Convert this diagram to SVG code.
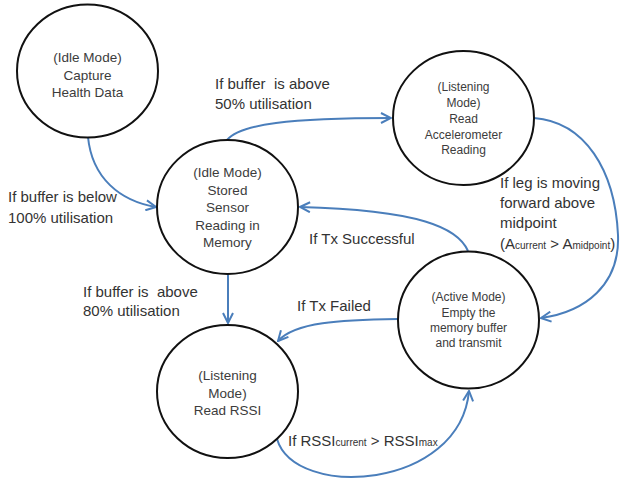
<svg xmlns="http://www.w3.org/2000/svg" width="621" height="481" viewBox="0 0 621 481">
<defs>
<style>
.node{fill:#fff;stroke:#111;stroke-width:2}
.nt{font-family:"Liberation Sans",Arial,sans-serif;fill:#3c3c3c;text-anchor:middle}
.lbl{font-family:"Liberation Sans",Arial,sans-serif;font-size:15px;fill:#333;white-space:pre}
.edge{fill:none;stroke:#4a7ebb;stroke-width:2}
.sub{font-size:10px}
</style>
<marker id="arr" viewBox="0 0 12 12" refX="11" refY="6" markerWidth="12" markerHeight="12" markerUnits="userSpaceOnUse" orient="auto">
<path d="M1,1 L11,6 L1,11" fill="none" stroke="#4a7ebb" stroke-width="2"/>
</marker>
</defs>
<rect width="621" height="481" fill="#fff"/>
<g id="connectors">
<path class="edge" d="M88 137 C92 178 120 201 156 207" marker-end="url(#arr)"/>
<path class="edge" d="M227 140 C240 124 290 118 391 118" marker-end="url(#arr)"/>
<path class="edge" d="M534 118 C585 122 615 170 618 235 C620 285 585 312 541 318" marker-end="url(#arr)"/>
<path class="edge" d="M468 251 C458 228 420 210 300 207" marker-end="url(#arr)"/>
<path class="edge" d="M228 274 L228 323" marker-end="url(#arr)"/>
<path class="edge" d="M398 319 C340 320 295 322 278 341" marker-end="url(#arr)"/>
<path class="edge" d="M277 439 C295 500 460 490 469 391" marker-end="url(#arr)"/>
</g>
<g id="n1">
<ellipse class="node" cx="87.5" cy="71" rx="70.5" ry="66.5"/>
<text class="nt" font-size="13.5"><tspan x="87.5" y="62">(Idle Mode)</tspan><tspan x="87.5" y="79.5">Capture</tspan><tspan x="87.5" y="97">Health Data</tspan></text>
</g>
<g id="n2">
<ellipse class="node" cx="227.5" cy="207" rx="70.5" ry="67"/>
<text class="nt" font-size="13.5"><tspan x="227.5" y="177">(Idle Mode)</tspan><tspan x="227.5" y="194.5">Stored</tspan><tspan x="227.5" y="212">Sensor</tspan><tspan x="227.5" y="229.5">Reading in</tspan><tspan x="227.5" y="247">Memory</tspan></text>
</g>
<g id="n3">
<ellipse class="node" cx="463.5" cy="118" rx="70.5" ry="67"/>
<text class="nt" font-size="12"><tspan x="463.5" y="91">(Listening</tspan><tspan x="463.5" y="107">Mode)</tspan><tspan x="463.5" y="122.5">Read</tspan><tspan x="463.5" y="138.5">Accelerometer</tspan><tspan x="463.5" y="154">Reading</tspan></text>
</g>
<g id="n4">
<ellipse class="node" cx="468.5" cy="320" rx="70.5" ry="68.5"/>
<text class="nt" font-size="12"><tspan x="468.5" y="301">(Active Mode)</tspan><tspan x="468.5" y="316.5">Empty the</tspan><tspan x="468.5" y="331.5">memory buffer</tspan><tspan x="468.5" y="347">and transmit</tspan></text>
</g>
<g id="n5">
<ellipse class="node" cx="227.5" cy="391.5" rx="70.5" ry="66.5"/>
<text class="nt" font-size="13.5"><tspan x="227.5" y="380">(Listening</tspan><tspan x="227.5" y="397.5">Mode)</tspan><tspan x="227.5" y="415">Read RSSI</tspan></text>
</g>
<g id="labels">
<text class="lbl" x="215" y="89">If buffer  is above</text>
<text class="lbl" x="215" y="109">50% utilisation</text>
<text class="lbl" x="8" y="202">If buffer is below</text>
<text class="lbl" x="8" y="223">100% utilisation</text>
<text class="lbl" x="83" y="297">If buffer is  above</text>
<text class="lbl" x="83" y="316">80% utilisation</text>
<text class="lbl" x="500" y="188">If leg is moving</text>
<text class="lbl" x="500" y="208">forward above</text>
<text class="lbl" x="500" y="228">midpoint</text>
<text class="lbl" x="500" y="249" font-size="14">(A<tspan class="sub">current</tspan> &gt; A<tspan class="sub">midpoint</tspan>)</text>
<text class="lbl" x="309" y="244">If Tx Successful</text>
<text class="lbl" x="297" y="311">If Tx Failed</text>
<text class="lbl" x="288" y="446" font-size="14">If RSSI<tspan class="sub">current</tspan> &gt; RSSI<tspan class="sub">max</tspan></text>
</g>
</svg>
